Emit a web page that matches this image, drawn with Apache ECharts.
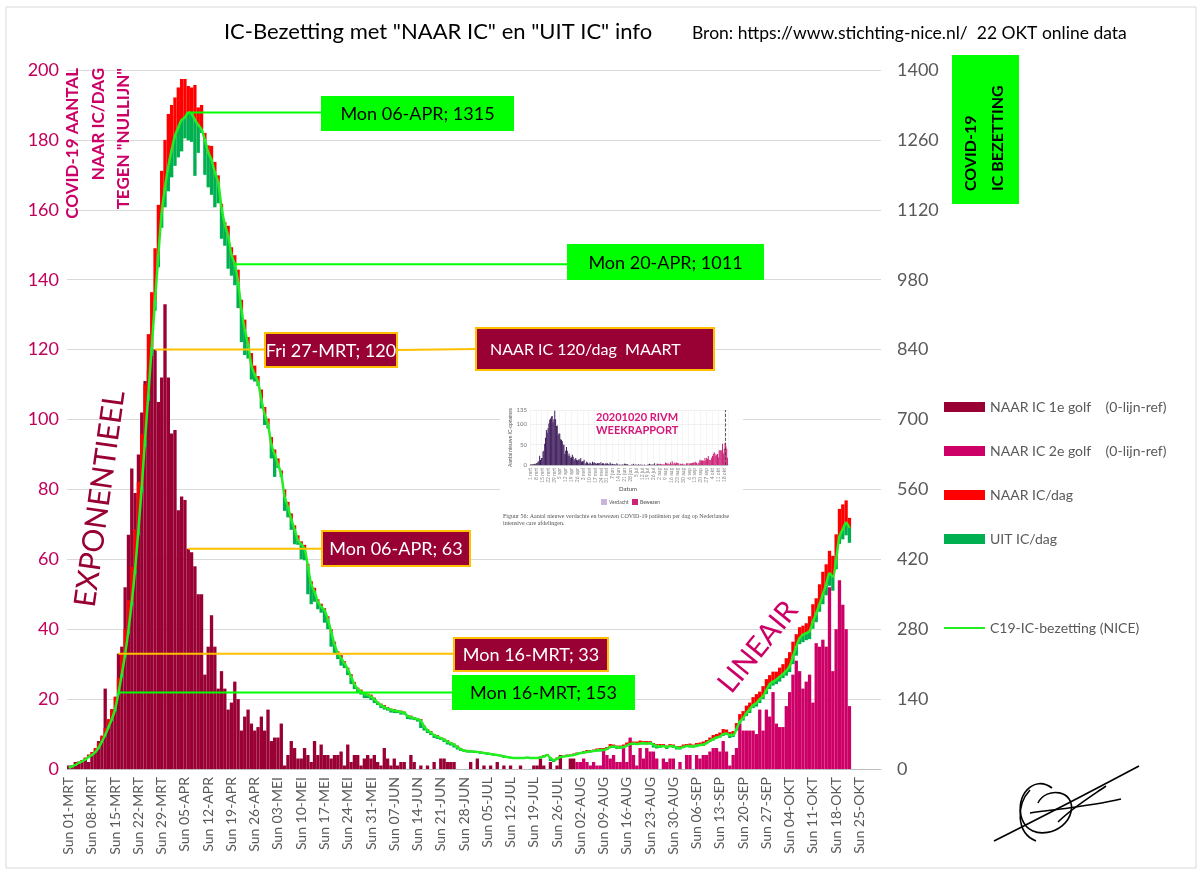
<!DOCTYPE html>
<html><head><meta charset="utf-8">
<script src="https://cdn.jsdelivr.net/npm/echarts@6/dist/echarts.min.js"></script>
<style>html,body{margin:0;padding:0;background:#fff}#c{width:1202px;height:874px}</style>
</head><body><div id="c"></div>
<script>
// ---------- categories / tick labels ----------
const monthNames = ['MRT','APR','MEI','JUN','JUL','AUG','SEP','OKT'];
const monthDays  = [31,30,31,30,31,31,30,31];
const weekdays   = ['Sun','Mon','Tue','Wed','Thu','Fri','Sat']; // 01-MRT-2020 = Sunday
const categories = [];
monthNames.forEach((m,i)=>{ for(let d=1; d<=monthDays[i]; d++) categories.push(String(d).padStart(2,'0')+'-'+m); });

// ---------- NAAR IC per dag (0-lijn-ref), left axis ----------
const naarGolf1 = [ // 01-MRT .. 31-JUL
 1,1,2,2,2,3,2,4,5,8,
 9,23,12,17,17,33,35,52,67,86,
 79,90,102,111,114,119,120,105,112,133,
 112,96,97,74,78,77,63,62,58,50,
 50,27,35,44,35,23,28,23,17,19,
 25,20,11,15,17,13,11,12,15,11,
 17,8,9,9,13,1,4,8,6,3,
 3,6,4,2,8,4,7,4,4,3,
 4,4,5,1,7,2,4,4,1,3,
 4,3,4,2,1,6,3,1,3,1,
 2,2,0,4,2,0,1,0,1,0,
 2,0,3,3,2,2,2,0,0,0,
 0,2,0,3,0,1,0,1,0,2,
 0,1,0,1,0,0,1,0,0,0,
 1,1,3,1,0,2,0,1,4,0,
 0,3,3];
const golf2Start = 153; // 01-AUG
const naarGolf2 = [ // 01-AUG .. 22-OKT
 2,2,3,2,1,2,1,
 1,6,4,3,4,2,2,6,2,9,
 4,1,6,3,6,5,5,3,0,3,
 2,3,3,0,2,0,4,4,0,4,
 3,4,4,5,6,6,5,8,5,1,
 4,6,13,11,11,11,11,10,17,11,
 17,15,22,13,12,12,18,22,27,31,
 28,23,25,27,19,36,35,37,35,52,
 28,40,54,47,40,18];

// ---------- NICE: bezetting, naar IC/dag, uit IC/dag (right axis) ----------
const bezetting = [
 3,5,8,12,15,19,24,28,34,42,
 55,68,84,100,120,153,190,230,278,335,
 400,480,566,660,752,845,938,1030,1114,1165,
 1207,1240,1268,1285,1300,1305,1315,1312,1300,1290,
 1281,1260,1235,1220,1195,1175,1125,1090,1068,1030,
 1011,975,920,880,850,808,790,775,740,710,
 690,650,630,610,590,545,525,500,480,458,
 450,441,406,370,355,335,325,318,300,275,
 250,232,222,212,200,185,170,160,155,150,
 148,145,140,133,128,124,121,119,117,116,
 114,113,106,104,102,100,97,85,78,73,
 68,65,62,59,55,52,49,44,40,37,
 36,35,35,34,33,32,31,30,29,28,
 27,25,24,23,22,22,22,22,23,22,
 22,22,23,25,28,22,18,20,24,25,
 26,27,28,30,32,33,34,35,36,37,
 38,38,40,44,45,44,43,44,47,50,
 51,50,51,52,51,52,49,46,45,46,
 44,46,45,43,42,44,46,46,45,47,
 48,49,52,56,60,63,65,70,71,68,
 68,80,95,102,112,120,128,132,140,146,
 158,170,175,179,185,190,197,206,225,245,
 262,269,272,276,295,312,330,350,370,392,
 385,420,466,480,493,483];
const naarDag = [
 1,2,2,3,3,4,5,6,8,10,
 12,14,16,20,25,30,40,50,60,70,
 80,95,105,110,119,110,105,100,84,95,
 105,90,77,80,82,77,53,53,70,35,
 49,14,14,28,21,14,7,5,20,15,
 18,25,20,20,15,25,18,12,20,15,
 12,15,10,12,8,15,10,12,8,10,
 6,8,5,6,8,5,6,4,6,5,
 5,4,6,4,3,5,4,3,4,3,
 3,4,3,2,3,4,3,2,3,2,
 3,2,2,3,2,2,3,2,2,3,
 2,3,2,2,3,2,2,3,2,2,
 2,2,1,2,2,1,2,2,1,2,
 1,2,1,1,2,1,2,1,1,2,
 2,1,2,3,2,1,2,3,2,2,
 3,2,3,3,2,3,4,3,3,4,
 4,3,4,6,4,3,4,5,6,5,
 4,5,6,4,5,4,3,4,5,4,
 3,4,4,3,4,5,4,5,4,5,
 5,6,6,7,8,7,8,10,8,6,
 8,12,15,14,15,13,16,18,15,20,
 22,18,20,16,18,20,25,28,30,25,
 22,18,20,30,35,30,40,45,40,45,
 42,50,55,50,45,20];
const uitDag = [
 0,0,1,0,1,1,1,1,2,2,
 2,3,3,4,5,5,6,6,8,8,
 10,12,12,15,15,18,20,25,30,40,
 50,55,60,60,63,42,56,56,112,56,
 7,70,70,70,70,42,63,42,66,42,
 42,52,65,51,28,28,14,8,18,21,
 8,28,45,7,5,28,21,21,30,9,
 30,23,56,40,20,15,12,25,20,30,
 20,12,15,10,12,15,10,8,6,8,
 6,7,8,5,6,5,4,6,5,4,
 5,4,6,5,4,5,15,8,6,5,
 6,5,4,5,6,5,6,5,4,3,
 3,2,3,2,3,2,3,2,3,2,
 2,3,2,2,2,1,2,2,1,2,
 2,2,1,2,1,6,4,2,2,1,
 2,1,2,2,1,2,2,2,2,2,
 3,2,2,2,3,4,3,2,2,2,
 3,2,2,3,2,3,6,5,3,2,
 4,2,3,4,3,2,2,3,2,3,
 2,3,2,2,3,2,2,4,3,6,
 4,3,4,5,6,8,6,7,8,6,
 8,10,8,9,10,8,10,12,15,18,
 12,15,14,16,14,18,15,20,22,25,
 28,20,15,20,25,30];

// ---------- annotations ----------
const annotations = [
 {text:'Mon 06-APR; 1315', day:36, axis:1, value:1315, box:[322,97,191,33], kind:'green'},
 {text:'Mon 20-APR; 1011', day:50, axis:1, value:1011, box:[568,245,195,34], kind:'green'},
 {text:'Fri 27-MRT; 120',  day:26, axis:0, value:120,  box:[265,333,132,34], kind:'maroon'},
 {text:'Mon 06-APR; 63',   day:36, axis:0, value:63,   box:[322,531,148,35], kind:'maroon'},
 {text:'Mon 16-MRT; 33',   day:15, axis:0, value:33,   box:[454,638,154,33], kind:'maroon'},
 {text:'Mon 16-MRT; 153',  day:15, axis:1, value:153,  box:[453,676,181,33], kind:'green'}
];

const N = categories.length;
const pad = (arr, start) => { const o = new Array(N).fill('-'); arr.forEach((v,i)=>{ o[start+i]=v; }); return o; };
const FONT = 'Lato, "Open Sans", sans-serif';
const C_MAROON = '#990033', C_MAGENTA = '#cc0066', C_RED = '#ff0000', C_GREEN = '#00b050', C_LINE = '#22ee22';

const chart = echarts.init(document.getElementById('c'));

const legendNames = ['NAAR IC 1e golf    (0-lijn-ref)','NAAR IC 2e golf    (0-lijn-ref)','NAAR IC/dag','UIT IC/dag'];
const lineName = 'C19-IC-bezetting (NICE)';

const option = {
  animation:false,
  backgroundColor:'#fff',
  textStyle:{fontFamily:FONT},
  grid:[{left:67,right:321,top:70,bottom:105},{left:530,top:410,width:198,height:55}],
  legend:[
    {data:legendNames, orient:'vertical', left:944, top:400, padding:0, itemWidth:41, itemHeight:10, itemGap:30, icon:'rect',
     textStyle:{fontSize:14,color:'#595959',fontFamily:FONT}},
    {data:[lineName], orient:'vertical', left:944, top:621, padding:0, itemWidth:41, itemHeight:2, icon:'rect',
     textStyle:{fontSize:14,color:'#595959',fontFamily:FONT}}
  ],
  xAxis:[
    {type:'category', data:categories, gridIndex:0, boundaryGap:true,
     axisLine:{lineStyle:{color:'#bfbfbf'}},
     axisTick:{interval:0, length:6, lineStyle:{color:'#bfbfbf'}},
     axisLabel:{interval:6, rotate:90, fontSize:14, color:'#595959', margin:8,
       formatter:(v,idx)=>weekdays[idx%7]+' '+v}},
    {type:'category', data:categories.slice(0,236), gridIndex:1, z:3,
     axisLine:{lineStyle:{color:'#bbb'}}, axisTick:{show:false},
     splitLine:{show:true, interval:6, lineStyle:{color:'#eee',width:0.6}},
     axisLabel:{interval:6, rotate:90, fontSize:5, color:'#888', margin:3,
       formatter:(v)=>parseInt(v,10)+' '+v.slice(3).toLowerCase()}}
  ],
  yAxis:[
    {type:'value', gridIndex:0, min:0, max:200, interval:20, position:'left',
     axisLine:{show:false}, axisTick:{show:false},
     axisLabel:{fontSize:18, color:'#c0005a', margin:8},
     splitLine:{lineStyle:{color:'#d9d9d9'}}},
    {type:'value', gridIndex:0, min:0, max:1400, interval:140, position:'right',
     axisLine:{show:false}, axisTick:{show:false},
     axisLabel:{fontSize:18, color:'#595959', margin:16, formatter:(v)=>String(v)},
     splitLine:{show:false}},
    {type:'value', gridIndex:1, min:0, max:135, interval:50, z:3,
     axisLine:{show:false}, axisTick:{show:false},
     axisLabel:{fontSize:6, color:'#777', margin:3},
     splitLine:{lineStyle:{color:'#e6e6e6',width:0.6}},
     name:'Aantal nieuwe IC-opnames', nameLocation:'middle', nameRotate:90, nameGap:14,
     nameTextStyle:{fontSize:5, color:'#555'}}
  ],
  series:[
    {name:legendNames[0], type:'bar', xAxisIndex:0, yAxisIndex:0, stack:'L', data:pad(naarGolf1,0),
     itemStyle:{color:C_MAROON}, barCategoryGap:'0%', barGap:'-100%', z:2},
    {name:legendNames[1], type:'bar', xAxisIndex:0, yAxisIndex:0, stack:'L', data:pad(naarGolf2,golf2Start),
     itemStyle:{color:C_MAGENTA}, barCategoryGap:'0%', barGap:'-100%', z:2},
    {name:'base', type:'bar', xAxisIndex:0, yAxisIndex:1, stack:'R', silent:true,
     data:pad(bezetting.map((b,i)=>b-uitDag[i]),0), itemStyle:{color:'rgba(0,0,0,0)'},
     barCategoryGap:'0%', barGap:'-100%', z:3},
    {name:legendNames[3], type:'bar', xAxisIndex:0, yAxisIndex:1, stack:'R', data:pad(uitDag,0),
     itemStyle:{color:C_GREEN}, barCategoryGap:'0%', barGap:'-100%', z:3},
    {name:legendNames[2], type:'bar', xAxisIndex:0, yAxisIndex:1, stack:'R', data:pad(naarDag,0),
     itemStyle:{color:C_RED}, barCategoryGap:'0%', barGap:'-100%', z:3},
    {name:lineName, type:'line', xAxisIndex:0, yAxisIndex:1, data:pad(bezetting,0),
     symbol:'none', smooth:0.3, lineStyle:{color:C_LINE, width:2.5}, itemStyle:{color:C_LINE}, z:5},
    // inset (RIVM weekrapport figure)
    {name:'inset1', type:'bar', xAxisIndex:1, yAxisIndex:2, stack:'I', data:pad(naarGolf1,0).slice(0,236),
     itemStyle:{color:'#3f1d5c'}, barCategoryGap:'0%', z:4, silent:true},
    {name:'inset2', type:'bar', xAxisIndex:1, yAxisIndex:2, stack:'I', data:pad(naarGolf2,golf2Start).slice(0,236),
     itemStyle:{color:'#cc2277'}, barCategoryGap:'0%', z:4, silent:true,
     markLine:{silent:true, symbol:'none', label:{show:false}, lineStyle:{color:'#333',type:'dashed',width:0.8},
       data:[{xAxis:232}]}}
  ]
};
chart.setOption(option);

// ---------- graphics (text, annotation boxes, inset decoration) ----------
function txt(x,y,text,opt){
  return Object.assign({type:'text', x:x, y:y, z:110, style:Object.assign({text:text, fontFamily:FONT,
    align:opt.align||'left', textAlign:opt.align||'left', verticalAlign:opt.va||'middle', textVerticalAlign:opt.va||'middle'}, opt.style||{})},
    opt.rotation!==undefined?{rotation:opt.rotation}:{});
}
const g = [];
// outer frame
g.push({type:'rect', z:0, shape:{x:6,y:7,width:1190,height:861}, style:{fill:'none', stroke:'#d9d9d9', lineWidth:1}});
// title
g.push({type:'text', x:438, y:32, z:110, style:{
  text:'{a|IC-Bezetting met "}{r|NAAR IC}{a|" en "}{g|UIT IC}{a|" info}',
  align:'center', textAlign:'center', verticalAlign:'middle', textVerticalAlign:'middle',
  rich:{a:{fontSize:22,color:'#595959',fontFamily:FONT}, r:{fontSize:22,color:'#ff0000',fontFamily:FONT}, g:{fontSize:22,color:'#00b050',fontFamily:FONT}}}});
g.push(txt(692,33,'Bron: https://www.stichting-nice.nl/  22 OKT online data',{style:{fontSize:17.5,fill:'#000'}}));
// left axis name (rotated)
['COVID-19 AANTAL','NAAR IC/DAG','TEGEN "NULLIJN"'].forEach((t,i)=>{
  g.push(txt(73+i*25.5,68,t,{align:'right', rotation:Math.PI/2, style:{fontSize:17,fontWeight:'bold',fill:'#cc0066'}}));
});
// right axis name box
g.push({type:'rect', z:100, shape:{x:952,y:55,width:67,height:149}, style:{fill:'#00ff00'}});
['COVID-19','IC BEZETTING'].forEach((t,i)=>{
  g.push(txt(971+i*27,191,t,{align:'left', rotation:Math.PI/2, style:{fontSize:16,fontWeight:'bold',fill:'#000'}}));
});
// EXPONENTIEEL / LINEAIR
g.push(txt(100,499,'EXPONENTIEEL',{align:'center', rotation:82*Math.PI/180, style:{fontSize:30,fill:C_MAROON}}));
g.push(txt(758,647,'LINEAIR',{align:'center', rotation:51*Math.PI/180, style:{fontSize:29,fill:C_MAGENTA}}));

// annotation lines + boxes (line start taken from the chart's own scales)
annotations.forEach(a=>{
  const p = chart.convertToPixel({xAxisIndex:0, yAxisIndex:a.axis}, [a.day, a.value]);
  const [bx,by,bw,bh] = a.box;
  const isG = a.kind==='green';
  g.push({type:'line', z:105, shape:{x1:p[0], y1:p[1], x2:bx, y2:p[1]},
    style:{stroke:isG?'#00ff00':'#ffc000', lineWidth:2}});
  g.push({type:'rect', z:106, shape:{x:bx,y:by,width:bw,height:bh},
    style:{fill:isG?'#00ff00':C_MAROON, stroke:isG?'#00ff00':'#ffc000', lineWidth:2}});
  g.push(txt(bx+bw/2, by+bh/2+1, a.text, {align:'center', style:{fontSize:18, fill:isG?'#000':'#fff'}}));
});
// link to "NAAR IC 120/dag MAART"
g.push({type:'line', z:105, shape:{x1:397,y1:350,x2:476,y2:349}, style:{stroke:'#ffc000', lineWidth:2}});
g.push({type:'rect', z:106, shape:{x:476,y:328,width:238,height:42}, style:{fill:C_MAROON, stroke:'#ffc000', lineWidth:2}});
g.push(txt(490,350,'NAAR IC 120/dag  MAART',{style:{fontSize:16,fill:'#fff'}}));

// inset picture area (RIVM weekrapport)
g.push({type:'rect', z:1, shape:{x:500,y:390,width:243,height:137}, style:{fill:'#fff'}});
g.push(txt(596,424,'20201020 RIVM\nWEEKRAPPORT',{style:{fontSize:11,fontWeight:'bold',fill:'#d6157a',lineHeight:13}}));
g.push(txt(628,489,'Datum',{align:'center', style:{fontSize:6,fill:'#444'}}));
g.push({type:'rect', z:110, shape:{x:601,y:499,width:6,height:6}, style:{fill:'#c9b5da'}});
g.push(txt(609,502,'Verdacht',{style:{fontSize:5,fill:'#555'}}));
g.push({type:'rect', z:110, shape:{x:632,y:499,width:6,height:6}, style:{fill:'#cc2277'}});
g.push(txt(640,502,'Bewezen',{style:{fontSize:5,fill:'#555'}}));
g.push(txt(503,516,'Figuur 56: Aantal nieuwe verdachte en bewezen COVID-19 patiënten per dag op Nederlandse',{style:{fontSize:6,fill:'#555',fontFamily:'"Liberation Serif", serif'}}));
g.push(txt(503,523,'intensive care afdelingen.',{style:{fontSize:6,fill:'#555',fontFamily:'"Liberation Serif", serif'}}));

// signature (decorative strokes)
const sigCurves = [
 [994,841, 1040,818, 1090,792, 1139,766],
 [1052,788, 1034,774, 1014,796, 1022,819],
 [1022,819, 1030,842, 1066,834, 1071,812],
 [1071,812, 1076,790, 1046,786, 1038,803],
 [1030,813, 1058,809, 1092,806, 1121,799],
 [1058,822, 1072,808, 1090,797, 1106,786],
 [1030,790, 1016,805, 1016,833, 1036,841]
];
sigCurves.forEach(c=>{
  g.push({type:'bezierCurve', z:110, shape:{x1:c[0],y1:c[1],cpx1:c[2],cpy1:c[3],cpx2:c[4],cpy2:c[5],x2:c[6],y2:c[7]},
    style:{fill:'none', stroke:'#000', lineWidth:1.6}});
});

chart.setOption({graphic:{elements:g}});
</script>
</body></html>
